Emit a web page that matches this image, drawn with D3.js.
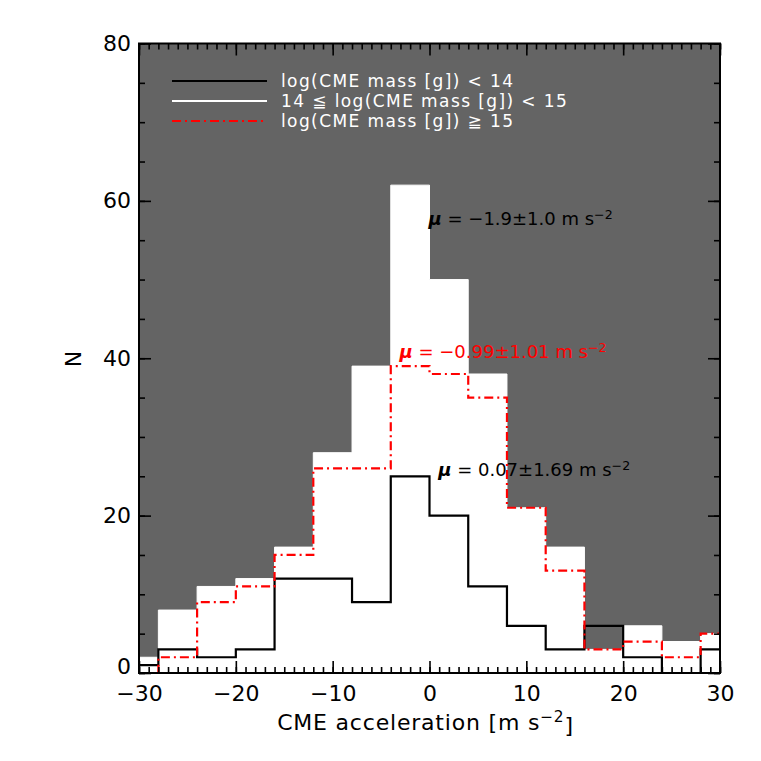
<!DOCTYPE html>
<html>
<head>
<meta charset="utf-8">
<script src="https://cdn.jsdelivr.net/npm/d3@7"></script>
<style>
  body { margin: 0; background: #fff; }
  text { font-family: "DejaVu Sans", sans-serif; }
</style>
</head>
<body>
<div id="chart"></div>
<script>
// histogram bins (width 4), centres in m s^-2
var binCenters = [-30, -26, -22, -18, -14, -10, -6, -2, 2, 6, 10, 14, 18, 22, 26, 30];
var nLow  = [1, 3, 2, 3, 12, 12, 9, 25, 20, 11, 6, 3, 6, 2, 0, 3];      // log M < 14
var nMid  = [2, 8, 11, 12, 16, 28, 39, 62, 50, 38, 21, 16, 3, 6, 4, 5]; // 14 <= log M < 15
var nHigh = [0, 2, 9, 11, 15, 26, 26, 39, 38, 35, 21, 13, 3, 4, 2, 5];  // log M >= 15
var xTicks = [-30, -20, -10, 0, 10, 20, 30];
var yTicks = [0, 20, 40, 60, 80];
var legendLabels = ["log(CME mass [g]) < 14", "14 \u2266 log(CME mass [g]) < 15", "log(CME mass [g]) \u2267 15"];
var means = [
  {txt: "0.07\u00b11.69", x: 0.9, y: 25},
  {txt: "\u22120.99\u00b11.01", x: -3.1, y: 40},
  {txt: "\u22121.9\u00b11.0", x: -0.1, y: 56.9}
];

function init() {
  var W = 761, H = 761;
  var pl = 139, pr = 720, pt = 43.5, pb = 673; // plot box
  var binW = 4;

  var svg = d3.select("#chart").append("svg").attr("width", W).attr("height", H);

  var x = d3.scaleLinear().domain([-30, 30]).range([pl, pr]);
  var y = d3.scaleLinear().domain([0, 80]).range([pb, pt]);

  svg.append("clipPath").attr("id", "clip")
    .append("rect").attr("x", pl).attr("y", pt).attr("width", pr - pl).attr("height", pb - pt);

  // plot background
  svg.append("rect").attr("x", pl).attr("y", pt).attr("width", pr - pl).attr("height", pb - pt)
    .attr("fill", "#646464");

  function steps(vals) { // vertices of a histogram outline
    var pts = [];
    vals.forEach(function(v, i) {
      pts.push([binCenters[i] - binW / 2, v]);
      pts.push([binCenters[i] + binW / 2, v]);
    });
    return pts;
  }
  var line = d3.line().x(function(d){ return x(d[0]); }).y(function(d){ return y(d[1]); });
  var area = d3.area().x(function(d){ return x(d[0]); }).y0(y(0)).y1(function(d){ return y(d[1]); });

  var g = svg.append("g").attr("clip-path", "url(#clip)");
  g.append("path").datum(steps(nMid)).attr("d", area).attr("fill", "#fff").attr("stroke", "#fff").attr("stroke-width", 1);
  g.append("path").datum(steps(nLow)).attr("d", line).attr("fill", "none").attr("stroke", "#000").attr("stroke-width", 2.2);
  g.append("path").datum(steps(nHigh)).attr("d", line).attr("fill", "none").attr("stroke", "#f00")
    .attr("stroke-width", 2.2).attr("stroke-dasharray", "9,4,2,4");

  // axes, ticks pointing inward on all sides
  function styleAxis(sel) {
    sel.select(".domain").remove();
    sel.selectAll("line").attr("stroke", "#000").attr("stroke-width", 1.6);
  }
  var xMinor = d3.range(-30, 31, 1), yMinor = d3.range(0, 81, 5);

  svg.append("g").attr("transform", "translate(0," + pb + ")")
    .call(d3.axisBottom(x).tickValues(xMinor).tickSize(-6).tickFormat("")).call(styleAxis);
  svg.append("g").attr("transform", "translate(0," + pt + ")")
    .call(d3.axisTop(x).tickValues(xMinor).tickSize(-6).tickFormat("")).call(styleAxis);
  svg.append("g").attr("transform", "translate(" + pl + ",0)")
    .call(d3.axisLeft(y).tickValues(yMinor).tickSize(-6).tickFormat("")).call(styleAxis);
  svg.append("g").attr("transform", "translate(" + pr + ",0)")
    .call(d3.axisRight(y).tickValues(yMinor).tickSize(-6).tickFormat("")).call(styleAxis);

  var xb = svg.append("g").attr("transform", "translate(0," + pb + ")")
    .call(d3.axisBottom(x).tickValues(xTicks).tickSize(-12)).call(styleAxis);
  xb.selectAll("text").attr("y", 28).attr("dy", 0).attr("font-size", 22).attr("font-family", "DejaVu Sans").attr("fill", "#000");
  svg.append("g").attr("transform", "translate(0," + pt + ")")
    .call(d3.axisTop(x).tickValues(xTicks).tickSize(-12).tickFormat("")).call(styleAxis);
  var yl = svg.append("g").attr("transform", "translate(" + pl + ",0)")
    .call(d3.axisLeft(y).tickValues(yTicks).tickSize(-12).tickFormat(d3.format("d"))).call(styleAxis);
  yl.selectAll("text").attr("x", -8).attr("font-size", 22).attr("font-family", "DejaVu Sans").attr("fill", "#000")
    .attr("dy", function(d){ return d === 0 ? "0" : "0.32em"; }); // IDL lifts the zero label off the x labels
  svg.append("g").attr("transform", "translate(" + pr + ",0)")
    .call(d3.axisRight(y).tickValues(yTicks).tickSize(-12).tickFormat("")).call(styleAxis);

  svg.append("rect").attr("x", pl).attr("y", pt).attr("width", pr - pl).attr("height", pb - pt)
    .attr("fill", "none").attr("stroke", "#000").attr("stroke-width", 2);

  // axis titles
  var xt = svg.append("text").attr("x", (pl + pr) / 2 - 4).attr("y", 730).attr("text-anchor", "middle")
    .attr("font-size", 22).attr("letter-spacing", 0.8);
  xt.append("tspan").text("CME acceleration [m s");
  xt.append("tspan").attr("dy", "-0.5em").attr("font-size", "70%").text("\u22122");
  xt.append("tspan").attr("dy", "0.5em").text("]");

  svg.append("text").attr("transform", "translate(81,359) rotate(-90)").attr("text-anchor", "middle")
    .attr("font-size", 22).text("N");

  // legend
  var legColors = ["#000", "#fff", "#f00"];
  legendLabels.forEach(function(lab, i) {
    var ly = 81 + i * 20;
    var l = svg.append("line").attr("x1", 172).attr("x2", 267).attr("y1", ly).attr("y2", ly)
      .attr("stroke", legColors[i]).attr("stroke-width", 2);
    if (i == 2) l.attr("stroke-dasharray", "9,4,2,4");
    svg.append("text").attr("x", 281).attr("y", ly + 6).attr("font-size", 17).attr("letter-spacing", 1.4)
      .attr("fill", "#fff").text(lab);
  });

  // mean annotations
  var mColors = ["#000", "#f00", "#000"];
  means.forEach(function(m, i) {
    var t = svg.append("text").attr("x", x(m.x)).attr("y", y(m.y)).attr("font-size", 18)
      .attr("fill", mColors[i]);
    t.append("tspan").attr("font-weight", "bold").attr("font-style", "italic").text("\u03bc");
    t.append("tspan").text(" = " + m.txt + " m s");
    t.append("tspan").attr("dy", "-0.5em").attr("font-size", "70%").text("\u22122");
  });
}
window.onload = init;
</script>
</body>
</html>
